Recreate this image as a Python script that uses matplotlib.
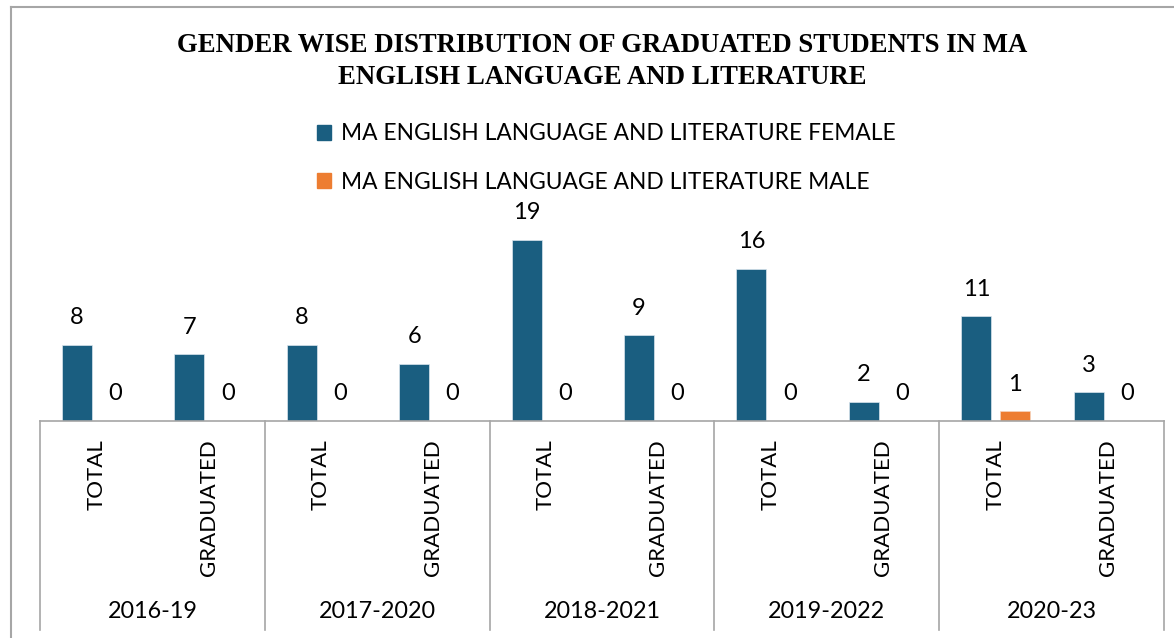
import numpy as np
import matplotlib
matplotlib.use('Agg')
import matplotlib.pyplot as plt
import matplotlib.transforms as mtransforms
from matplotlib.lines import Line2D
from matplotlib.patches import Rectangle

# ── data ─────────────────────────────────────────────────────────────
groups   = ['2016-19', '2017-2020', '2018-2021', '2019-2022', '2020-23']
subcats  = ['TOTAL', 'GRADUATED']
female   = [8, 7, 8, 6, 19, 9, 16, 2, 11, 3]
male     = [0, 0, 0, 0, 0, 0, 0, 0, 1, 0]
series   = ['MA ENGLISH LANGUAGE AND LITERATURE FEMALE',
            'MA ENGLISH LANGUAGE AND LITERATURE MALE']
title    = ['GENDER WISE DISTRIBUTION OF GRADUATED STUDENTS IN MA',
            'ENGLISH LANGUAGE AND LITERATURE']

C_FEM  = '#1A5E80'
C_MALE = '#ED7D31'
C_GRID = '#A6A6A6'
SANS   = ['Lato', 'DejaVu Sans']

W, H = 1174, 638
fig = plt.figure(figsize=(W / 100, H / 100), dpi=100, facecolor='white')

# pixel layout of plot area
x0, x1 = 40, 1164
base, top = 421, 230.4
ax = fig.add_axes([x0 / W, 1 - base / H, (x1 - x0) / W, (base - top) / H])
ax.set_xlim(-0.5, len(female) - 0.5)
ax.set_ylim(0, 20)
ax.axis('off')

x = np.arange(len(female))
bw, off = 0.267, 0.17
b1 = ax.bar(x - off, female, bw, color=C_FEM, edgecolor='#dbe6ee', linewidth=0.5)
b2 = ax.bar(x + off, male, bw, color=C_MALE, edgecolor='#f6d5bf', linewidth=0.5)

for bars, vals in [(b1, female), (b2, male)]:
    for r, v in zip(bars, vals):
        ax.annotate(str(v), (r.get_x() + r.get_width() / 2, v),
                    xytext=(0, 19.5), textcoords='offset points',
                    ha='center', va='center', fontsize=17, family=SANS,
                    color='black')

# category axis (multi-level)
tr = mtransforms.blended_transform_factory(ax.transData, fig.transFigure)
fy = lambda py: 1 - py / H
fig.add_artist(Line2D([-0.5, len(female) - 0.5], [fy(base), fy(base)],
                      transform=tr, color=C_GRID, lw=1.2))
for b in np.arange(-0.5, len(female), 2):
    fig.add_artist(Line2D([b, b], [fy(base), fy(630)], transform=tr,
                          color=C_GRID, lw=1.2))

for i in x:
    fig.text(i, fy(439), subcats[i % 2], transform=tr, rotation=90,
             ha='center', va='top', fontsize=16, family=SANS, color='black')
for g, name in enumerate(groups):
    fig.text(2 * g + 0.5, fy(612), name, transform=tr, ha='center',
             va='center', fontsize=16.8, family=SANS, color='black')

# title
for line, py in zip(title, [46, 77]):
    fig.text(602 / W, fy(py), line, ha='center', va='center',
             fontsize=19.25, fontweight='bold', family='Liberation Serif',
             color='black')

# legend
handles = [Rectangle((0, 0), 1, 1, color=C_FEM), Rectangle((0, 0), 1, 1, color=C_MALE)]
fig.legend(handles, series, loc='center', bbox_to_anchor=(606 / W, fy(158)),
           frameon=False, prop={'family': SANS, 'size': 16.4},
           handlelength=0.65, handleheight=0.65, handletextpad=0.4,
           labelspacing=1.2, borderpad=0)

# outer chart border
fig.add_artist(Line2D([11 / W, 11 / W], [fy(7), 0], transform=fig.transFigure,
                      color='#A6A6A6', lw=1.5))
fig.add_artist(Line2D([11 / W, 1], [fy(7), fy(7)], transform=fig.transFigure,
                      color='#A6A6A6', lw=1.5))

fig.savefig('out.png', dpi=100, facecolor='white')
